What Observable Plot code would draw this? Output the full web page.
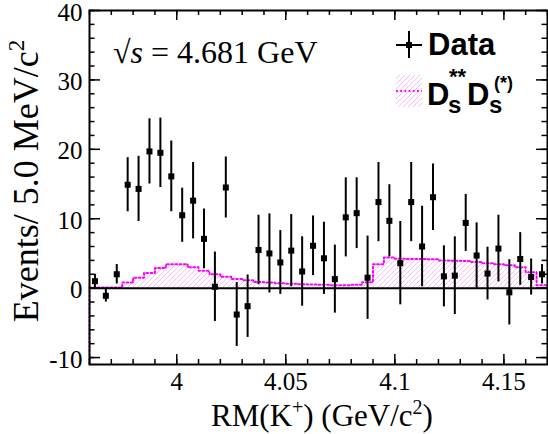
<!DOCTYPE html>
<html><head><meta charset="utf-8">
<script src="https://cdn.jsdelivr.net/npm/d3@7"></script>
<script src="https://cdn.jsdelivr.net/npm/@observablehq/plot@0.6"></script>
<style>
body{margin:0;background:#fff}
#chart{position:relative;width:548px;height:434px}
</style>
</head><body><div id="chart"></div>
<script>
// ---- data ----
const binCenters = [3.9625,3.9675,3.9725,3.9775,3.9825,3.9875,3.9925,3.9975,4.0025,4.0075,
  4.0125,4.0175,4.0225,4.0275,4.0325,4.0375,4.0425,4.0475,4.0525,4.0575,
  4.0625,4.0675,4.0725,4.0775,4.0825,4.0875,4.0925,4.0975,4.1025,4.1075,
  4.1125,4.1175,4.1225,4.1275,4.1325,4.1375,4.1425,4.1475,4.1525,4.1575,
  4.1625,4.1675];
const dataCounts = [1.0,-1.1,2.0,14.9,14.3,19.7,19.5,16.1,10.5,12.6,
  7.1,0.2,14.5,-3.8,-2.6,5.5,5.0,3.7,5.4,2.4,
  6.1,4.3,1.3,10.2,10.8,1.5,12.4,9.7,3.6,12.4,
  6.0,13.1,1.7,1.8,9.4,4.7,2.1,5.7,-0.6,4.2,
  1.6,2.0];
const dataErrors = [1.0,0.9,1.4,3.9,4.7,4.7,5.0,5.1,3.9,5.5,
  4.3,5.0,4.4,4.6,4.5,5.0,5.7,4.6,5.2,5.0,
  4.3,5.2,4.9,5.7,5.1,6.0,5.7,5.2,6.0,5.7,
  5.8,4.8,4.4,5.6,4.1,4.7,3.8,4.8,4.7,3.8,
  2.6,1.4];
const mcShape = [0.1,0.1,0.1,0.8,1.5,2.2,2.9,3.45,3.45,3.0,
  2.5,2.0,1.65,1.3,1.15,0.9,0.8,0.7,0.65,0.57,
  0.52,0.48,0.43,0.43,0.48,0.85,3.45,4.4,4.25,4.2,
  4.2,4.15,4.0,3.95,3.9,3.75,3.6,3.45,3.3,3.0,
  2.3,0.4];
const binHalfWidth = 0.0025;
const xMajorTicks = [4.0, 4.05, 4.1, 4.15];
const xTickLabels = ["4", "4.05", "4.1", "4.15"];
const yMajorTicks = [-10, 0, 10, 20, 30, 40];
const yTickLabels = ["-10", "0", "10", "20", "30", "40"];
const xDomain = [3.96, 4.17];
const yDomain = [-11, 40];

// ---- layout ----
const W = 548, H = 434, mL = 89, mR = 1, mT = 10, mB = 70;
const kx = (W - mL - mR) / (xDomain[1] - xDomain[0]);
const ky = (H - mT - mB) / (yDomain[1] - yDomain[0]);

const points = binCenters.map((x, i) => ({x, y: dataCounts[i], lo: dataCounts[i] - dataErrors[i], hi: dataCounts[i] + dataErrors[i]}));
const hist = binCenters.map((x, i) => ({x1: x - binHalfWidth, x2: x + binHalfWidth, y: mcShape[i]}));
const histLine = hist.map(d => ({x: d.x1, y: d.y})).concat([{x: hist[hist.length - 1].x2, y: hist[hist.length - 1].y}]);

const xMinor = d3.range(0, 22).map(i => +(xDomain[0] + i * 0.01).toFixed(2)).filter(v => v <= xDomain[1] + 1e-9);
const yMinor = d3.range(-10, 41, 2);

const xMajLen = 10, xMinLen = 5, yMajLen = 11, yMinLen = 5.5;

const magenta = "#f0f";
const dash = "1.8,2.4";
const plot = Plot.plot({
  width: W, height: H,
  marginLeft: mL, marginRight: mR, marginTop: mT, marginBottom: mB,
  x: {domain: xDomain},
  y: {domain: yDomain},
  style: {fontFamily: "'Liberation Serif','Times New Roman',serif", fontSize: "25px", background: "white", color: "black"},
  marks: [
    Plot.rectY(hist, {x1: "x1", x2: "x2", y: "y", fill: "url(#hatch)"}),
    Plot.line(histLine, {x: "x", y: "y", curve: "step-after", stroke: magenta, strokeWidth: 2, strokeDasharray: dash}),
    Plot.ruleX([xDomain[0]], {y1: yDomain[0], y2: 0, stroke: magenta, strokeWidth: 2, strokeDasharray: dash}),
    Plot.ruleY([0], {stroke: "black", strokeWidth: 2}),
    Plot.ruleX(points, {x: "x", y1: "lo", y2: "hi", stroke: "black", strokeWidth: 2}),
    Plot.dot(points, {x: "x", y: "y", symbol: "square", r: 3.4, fill: "black"}),
    // inward ticks: bottom / top
    Plot.ruleX(xMinor, {y1: yDomain[0], y2: yDomain[0] + xMinLen / ky, stroke: "black", strokeWidth: 1.5}),
    Plot.ruleX(xMajorTicks, {y1: yDomain[0], y2: yDomain[0] + xMajLen / ky, stroke: "black", strokeWidth: 1.5}),
    Plot.ruleX(xMinor, {y1: yDomain[1], y2: yDomain[1] - xMinLen / ky, stroke: "black", strokeWidth: 1.5}),
    Plot.ruleX(xMajorTicks, {y1: yDomain[1], y2: yDomain[1] - xMajLen / ky, stroke: "black", strokeWidth: 1.5}),
    // inward ticks: left / right
    Plot.ruleY(yMinor, {x1: xDomain[0], x2: xDomain[0] + yMinLen / kx, stroke: "black", strokeWidth: 1.5}),
    Plot.ruleY(yMajorTicks, {x1: xDomain[0], x2: xDomain[0] + yMajLen / kx, stroke: "black", strokeWidth: 1.5}),
    Plot.ruleY(yMinor, {x1: xDomain[1], x2: xDomain[1] - yMinLen / kx, stroke: "black", strokeWidth: 1.5}),
    Plot.ruleY(yMajorTicks, {x1: xDomain[1], x2: xDomain[1] - yMajLen / kx, stroke: "black", strokeWidth: 1.5}),
    Plot.frame({stroke: "black", strokeWidth: 2}),
    Plot.axisX(xMajorTicks, {tickSize: 0, tickPadding: 8, label: null, tickFormat: d => xTickLabels[xMajorTicks.indexOf(d)]}),
    Plot.axisY(yMajorTicks, {tickSize: 0, tickPadding: 7, dy: 2, label: null, tickFormat: d => yTickLabels[yMajorTicks.indexOf(d)]})
  ]
});
document.getElementById("chart").appendChild(plot);

const svg = d3.select(plot);
// hatch pattern
const defs = svg.insert("defs", ":first-child");
defs.append("pattern").attr("id", "hatch").attr("patternUnits", "userSpaceOnUse")
  .attr("width", 5).attr("height", 5)
  .append("path").attr("d", "M-1,1 l2,-2 M0,5 l5,-5 M4,6 l2,-2")
  .attr("stroke", "#f6a8f6").attr("stroke-width", 0.8).attr("fill", "none");

const serif = "'Liberation Serif','Times New Roman',serif";
const sans = "'Liberation Sans',Arial,Helvetica,sans-serif";

// axis titles
const yl = svg.append("text").attr("transform", "translate(38,181) rotate(-90)")
  .attr("text-anchor", "middle").attr("font-family", serif).attr("font-size", 36).attr("fill", "black");
yl.append("tspan").text("Events/ 5.0 MeV/c");
yl.append("tspan").attr("font-size", 23).attr("dy", -14).text("2");

const xl = svg.append("text").attr("x", 322).attr("y", 426)
  .attr("text-anchor", "middle").attr("font-family", serif).attr("font-size", 31).attr("fill", "black");
xl.append("tspan").text("RM(K");
xl.append("tspan").attr("font-size", 20).attr("dy", -12).text("+");
xl.append("tspan").attr("dy", 12).text(") (GeV/c");
xl.append("tspan").attr("font-size", 20).attr("dy", -12).text("2");
xl.append("tspan").attr("dy", 12).text(")");

// energy annotation
const en = svg.append("text").attr("x", 113).attr("y", 63).attr("text-anchor", "start")
  .attr("font-family", serif).attr("font-size", 32).attr("fill", "black");
en.append("tspan").text("\u221A");
en.append("tspan").attr("font-style", "italic").text("s");
en.append("tspan").text(" = 4.681 GeV");

// legend: Data
const lg = svg.append("g").attr("text-anchor", "start");
lg.append("line").attr("x1", 396).attr("x2", 422).attr("y1", 45).attr("y2", 45).attr("stroke", "black").attr("stroke-width", 2);
lg.append("line").attr("x1", 409).attr("x2", 409).attr("y1", 31).attr("y2", 58).attr("stroke", "black").attr("stroke-width", 2);
lg.append("rect").attr("x", 406).attr("y", 42).attr("width", 6).attr("height", 6).attr("fill", "black");
lg.append("text").attr("x", 428).attr("y", 55).attr("font-family", sans).attr("font-weight", "bold")
  .attr("font-size", 31).attr("fill", "black").text("Data");
// legend: MC
lg.append("rect").attr("x", 396).attr("y", 75).attr("width", 26).attr("height", 32).attr("fill", "url(#hatch)");
lg.append("line").attr("x1", 396).attr("x2", 422).attr("y1", 91).attr("y2", 91)
  .attr("stroke", magenta).attr("stroke-width", 2).attr("stroke-dasharray", dash);
const t2 = lg.append("g").attr("font-family", sans).attr("font-weight", "bold").attr("fill", "black");
t2.append("text").attr("x", 427).attr("y", 105).attr("font-size", 31).text("D");
t2.append("text").attr("x", 448).attr("y", 113).attr("font-size", 24).text("s");
t2.append("text").attr("x", 449).attr("y", 84).attr("font-size", 22).text("**");
t2.append("text").attr("x", 467).attr("y", 105).attr("font-size", 31).text("D");
t2.append("text").attr("x", 489).attr("y", 113).attr("font-size", 24).text("s");
t2.append("text").attr("x", 494).attr("y", 89).attr("font-size", 18).text("(*)");
</script>
</body></html>
